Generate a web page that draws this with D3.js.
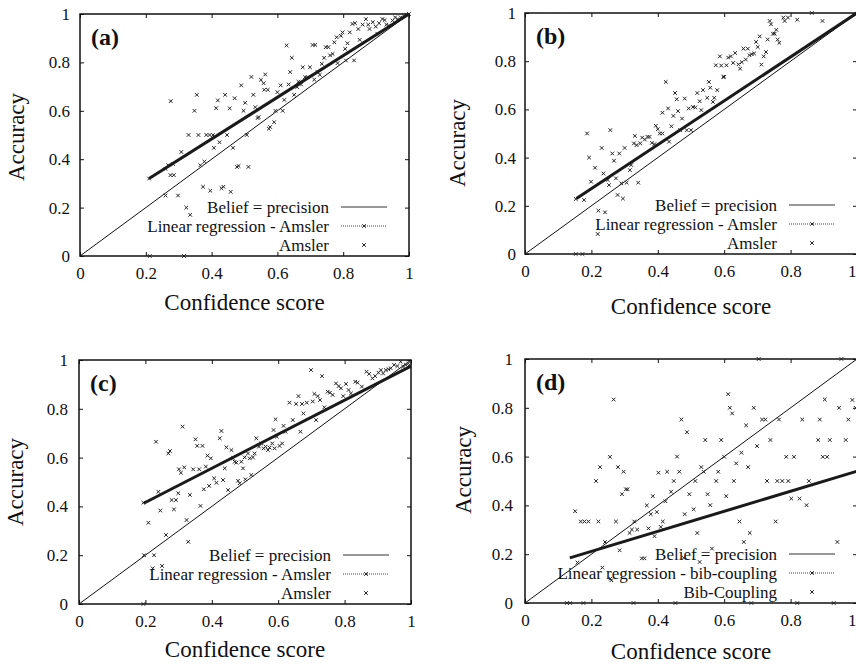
<!DOCTYPE html>
<html lang="en">
<head>
<meta charset="UTF-8">
<title>Confidence score vs accuracy</title>
<script src="https://cdn.jsdelivr.net/npm/d3@7"></script>
<style>
  body { margin: 0; background: #fff; }
  svg text { font-family: 'Liberation Serif', 'Times New Roman', serif; fill: #111; }
</style>
</head>
<body>
<script>
// tick values shared by every panel
const tickValues = [0, 0.2, 0.4, 0.6, 0.8, 1]
const panelNames = ['(a)', '(b)', '(c)', '(d)']
const legendAmsler = ['Belief = precision', 'Linear regression - Amsler', 'Amsler']
const legendBib = ['Belief = precision', 'Linear regression - bib-coupling', 'Bib-Coupling']

// regression end points [x, y]
const regA = [[0.21, 0.32], [1, 1]]
const regB = [[0.155, 0.23], [1, 1]]
const regC = [[0.195, 0.413], [1, 0.975]]
const regD = [[0.135, 0.185], [1, 0.54]]

// scatter points [confidence, accuracy]
const ptsA = [
  [0.212, 0], [0.316, 0], [0.21, 0.32], [0.26, 0.25], [0.26, 0.36], [0.268, 0.375], [0.275, 0.334], [0.285, 0.334],
  [0.283, 0.38], [0.276, 0.64], [0.298, 0.25], [0.308, 0.43], [0.323, 0.2], [0.335, 0.17], [0.33, 0.5],
  [0.348, 0.6], [0.355, 0.666], [0.36, 0.5], [0.366, 0.375], [0.374, 0.286], [0.378, 0.39], [0.384, 0.5],
  [0.394, 0.5], [0.396, 0.27], [0.404, 0.5], [0.407, 0.447], [0.414, 0.611], [0.419, 0.643], [0.424, 0.47],
  [0.43, 0.28], [0.436, 0.286], [0.441, 0.666], [0.447, 0.5], [0.455, 0.61], [0.458, 0.265], [0.465, 0.447],
  [0.47, 0.652], [0.477, 0.368], [0.482, 0.372], [0.49, 0.705], [0.497, 0.6], [0.502, 0.633], [0.507, 0.5],
  [0.512, 0.368], [0.521, 0.74], [0.527, 0.666], [0.533, 0.615], [0.54, 0.57], [0.543, 0.574], [0.55, 0.728],
  [0.558, 0.714], [0.563, 0.75], [0.56, 0.687], [0.571, 0.687], [0.574, 0.526], [0.578, 0.533], [0.59, 0.553],
  [0.594, 0.6], [0.6, 0.677], [0.61, 0.705], [0.616, 0.6], [0.621, 0.645], [0.628, 0.87], [0.634, 0.709],
  [0.639, 0.76], [0.644, 0.819], [0.651, 0.666], [0.66, 0.698], [0.664, 0.72], [0.672, 0.709], [0.677, 0.78],
  [0.684, 0.739], [0.692, 0.739], [0.699, 0.78], [0.707, 0.872], [0.715, 0.872], [0.712, 0.729], [0.722, 0.76],
  [0.729, 0.749], [0.735, 0.794], [0.742, 0.819], [0.747, 0.863], [0.755, 0.863], [0.76, 0.829], [0.768, 0.835],
  [0.773, 0.883], [0.78, 0.904], [0.783, 0.797], [0.793, 0.91], [0.798, 0.924], [0.806, 0.856], [0.813, 0.879],
  [0.808, 0.808], [0.82, 0.924], [0.828, 0.959], [0.836, 0.962], [0.833, 0.808], [0.846, 0.938], [0.85, 0.893],
  [0.859, 0.956], [0.869, 0.979], [0.876, 0.956], [0.88, 0.938], [0.89, 0.966], [0.899, 0.948], [0.904, 0.918],
  [0.909, 0.962], [0.919, 0.979], [0.926, 0.975], [0.931, 0.956], [0.939, 0.952], [0.95, 0.973], [0.958, 0.986],
  [0.965, 0.979], [0.975, 0.986], [0.985, 0.993], [0.995, 0.997], [1, 1]
]

const ptsB = [
  [0.153, 0], [0.173, 0], [0.153, 0.228], [0.178, 0.224], [0.187, 0.5], [0.193, 0.4], [0.199, 0.3], [0.211, 0.358],
  [0.219, 0.083], [0.221, 0.18], [0.231, 0.44], [0.236, 0.334], [0.241, 0.173], [0.249, 0.307], [0.253, 0.286],
  [0.257, 0.514], [0.263, 0.417], [0.268, 0.387], [0.274, 0.314], [0.279, 0.245], [0.284, 0.417], [0.29, 0.293],
  [0.295, 0.23], [0.3, 0.44], [0.306, 0.296], [0.316, 0.348], [0.32, 0.369], [0.328, 0.459], [0.331, 0.49],
  [0.336, 0.452], [0.341, 0.296], [0.347, 0.459], [0.353, 0.483], [0.361, 0.475], [0.369, 0.486], [0.375, 0.486],
  [0.382, 0.461], [0.39, 0.456], [0.394, 0.532], [0.4, 0.518], [0.406, 0.5], [0.414, 0.5], [0.414, 0.586],
  [0.424, 0.714], [0.431, 0.604], [0.434, 0.466], [0.441, 0.53], [0.447, 0.573], [0.452, 0.668], [0.457, 0.642],
  [0.461, 0.593], [0.467, 0.514], [0.473, 0.562], [0.481, 0.645], [0.487, 0.514], [0.493, 0.604], [0.5, 0.514],
  [0.506, 0.61], [0.513, 0.608], [0.519, 0.668], [0.526, 0.634], [0.531, 0.597], [0.536, 0.68], [0.549, 0.648],
  [0.554, 0.714], [0.558, 0.69], [0.566, 0.631], [0.57, 0.648], [0.579, 0.68], [0.575, 0.783], [0.587, 0.82],
  [0.591, 0.782], [0.597, 0.735], [0.6, 0.735], [0.607, 0.783], [0.612, 0.815], [0.62, 0.82], [0.627, 0.793],
  [0.633, 0.834], [0.643, 0.787], [0.648, 0.769], [0.653, 0.796], [0.658, 0.852], [0.665, 0.807], [0.671, 0.852],
  [0.676, 0.825], [0.683, 0.829], [0.69, 0.832], [0.696, 0.88], [0.701, 0.859], [0.707, 0.903], [0.712, 0.786],
  [0.719, 0.82], [0.726, 0.838], [0.731, 0.89], [0.737, 0.967], [0.741, 0.953], [0.747, 0.914], [0.752, 0.914],
  [0.757, 0.93], [0.761, 0.89], [0.766, 0.876], [0.778, 0.981], [0.782, 0.967], [0.792, 0.981], [0.82, 0.972],
  [0.864, 1], [0.896, 0.967]
]

const ptsC = [
  [0.194, 0], [0.196, 0.2], [0.194, 0.415], [0.209, 0.333], [0.226, 0.2], [0.232, 0.665], [0.222, 0.146],
  [0.25, 0.156], [0.239, 0.46], [0.245, 0.383], [0.262, 0.283], [0.269, 0.617], [0.274, 0.627], [0.279, 0.426],
  [0.286, 0.388], [0.292, 0.426], [0.299, 0.454], [0.301, 0.552], [0.307, 0.538], [0.312, 0.727], [0.317, 0.56],
  [0.324, 0.344], [0.329, 0.255], [0.334, 0.447], [0.344, 0.552], [0.351, 0.675], [0.356, 0.648], [0.362, 0.552],
  [0.366, 0.402], [0.372, 0.648], [0.376, 0.47], [0.382, 0.563], [0.387, 0.608], [0.392, 0.484], [0.397, 0.597],
  [0.407, 0.515], [0.414, 0.497], [0.424, 0.679], [0.429, 0.709], [0.434, 0.508], [0.439, 0.556], [0.444, 0.642],
  [0.449, 0.467], [0.459, 0.631], [0.464, 0.597], [0.469, 0.583], [0.474, 0.579], [0.479, 0.505], [0.484, 0.495],
  [0.489, 0.583], [0.494, 0.556], [0.499, 0.601], [0.501, 0.511], [0.509, 0.617], [0.514, 0.597], [0.519, 0.529],
  [0.524, 0.601], [0.529, 0.617], [0.534, 0.679], [0.542, 0.645], [0.549, 0.658], [0.556, 0.638], [0.562, 0.645],
  [0.569, 0.631], [0.574, 0.641], [0.582, 0.658], [0.589, 0.638], [0.586, 0.713], [0.592, 0.757], [0.596, 0.686],
  [0.604, 0.648], [0.612, 0.658], [0.616, 0.73], [0.622, 0.706], [0.634, 0.825], [0.644, 0.754], [0.654, 0.82],
  [0.661, 0.852], [0.667, 0.706], [0.672, 0.82], [0.676, 0.781], [0.686, 0.825], [0.699, 0.959], [0.704, 0.83],
  [0.709, 0.861], [0.714, 0.754], [0.719, 0.852], [0.726, 0.836], [0.732, 0.934], [0.739, 0.806], [0.749, 0.87],
  [0.756, 0.866], [0.764, 0.857], [0.774, 0.904], [0.782, 0.893], [0.789, 0.884], [0.796, 0.852], [0.804, 0.902],
  [0.812, 0.877], [0.819, 0.863], [0.832, 0.911], [0.839, 0.907], [0.852, 0.891], [0.866, 0.952], [0.874, 0.943],
  [0.884, 0.925], [0.892, 0.934], [0.902, 0.948], [0.909, 0.959], [0.916, 0.945], [0.924, 0.959], [0.932, 0.962],
  [0.939, 0.966], [0.949, 0.98], [0.959, 0.975], [0.969, 0.993], [0.976, 0.973], [0.984, 0.98], [0.992, 0.986],
  [0.996, 0.973]
]

const ptsD = [
  [0.126, 0], [0.136, 0], [0.176, 0], [0.327, 0], [0.453, 0], [0.682, 0], [0.82, 0], [0.93, 0],
  [0.704, 1], [0.953, 1], [0.151, 0.376], [0.158, 0.166], [0.168, 0.334], [0.179, 0.334], [0.191, 0.334],
  [0.214, 0.5], [0.221, 0.334], [0.226, 0.557], [0.233, 0.145], [0.241, 0.25], [0.257, 0.1], [0.26, 0.093],
  [0.256, 0.599], [0.267, 0.834], [0.274, 0.334], [0.28, 0.557], [0.285, 0.216], [0.292, 0.446], [0.297, 0.538],
  [0.304, 0.466], [0.309, 0.466], [0.315, 0.287], [0.322, 0.301], [0.329, 0.334], [0.338, 0.301], [0.352, 0.183],
  [0.36, 0.183], [0.367, 0.4], [0.372, 0.306], [0.379, 0.364], [0.385, 0.438], [0.39, 0.274], [0.397, 0.373],
  [0.402, 0.534], [0.409, 0.312], [0.415, 0.334], [0.423, 0.417], [0.428, 0.538], [0.44, 0.456], [0.448, 0.5],
  [0.458, 0.6], [0.465, 0.538], [0.471, 0.752], [0.478, 0.185], [0.481, 0.364], [0.488, 0.7], [0.495, 0.446],
  [0.508, 0.384], [0.513, 0.5], [0.519, 0.287], [0.526, 0.168], [0.531, 0.557], [0.538, 0.538], [0.543, 0.668],
  [0.55, 0.446], [0.558, 0.401], [0.563, 0.223], [0.576, 0.5], [0.582, 0.538], [0.591, 0.668], [0.6, 0.599],
  [0.606, 0.438], [0.612, 0.856], [0.617, 0.8], [0.624, 0.777], [0.629, 0.5], [0.636, 0.572], [0.646, 0.334],
  [0.652, 0.616], [0.659, 0.25], [0.666, 0.728], [0.672, 0.557], [0.677, 0.287], [0.689, 0.8], [0.699, 0.643],
  [0.714, 0.752], [0.724, 0.752], [0.729, 0.5], [0.739, 0.668], [0.755, 0.334], [0.76, 0.5], [0.765, 0.752],
  [0.775, 0.5], [0.787, 0.599], [0.793, 0.5], [0.802, 0.428], [0.81, 0.599], [0.827, 0.428], [0.835, 0.752],
  [0.848, 0.401], [0.855, 0.5], [0.883, 0.668], [0.888, 0.752], [0.897, 0.599], [0.903, 0.834], [0.91, 0.599],
  [0.918, 0.668], [0.941, 0.25], [0.946, 0.8], [0.966, 0.668], [0.974, 0.752], [0.986, 0.832], [0.996, 0.8]
]

const width = 856
const height = 664

const svg = d3.select('body').append('svg')
  .attr('width', width)
  .attr('height', height)

const panels = [
  { name: panelNames[0], pts: ptsA, reg: regA, legend: legendAmsler,
    left: 80, right: 409, top: 14, bottom: 256, yPad: 10, yTitleX: 17, yTitleY: 137, xTitleY: 310 },
  { name: panelNames[1], pts: ptsB, reg: regB, legend: legendAmsler,
    left: 525, right: 857, top: 13, bottom: 254, yPad: 9, yTitleX: 458, yTitleY: 143, xTitleY: 314 },
  { name: panelNames[2], pts: ptsC, reg: regC, legend: legendAmsler,
    left: 79, right: 411, top: 360, bottom: 604, yPad: 11, yTitleX: 16, yTitleY: 482, xTitleY: 657 },
  { name: panelNames[3], pts: ptsD, reg: regD, legend: legendBib,
    left: 525, right: 857, top: 359, bottom: 603, yPad: 12, yTitleX: 464, yTitleY: 470, xTitleY: 659 }
]

const cross = 'M-1.8,-1.8L1.8,1.8M-1.8,1.8L1.8,-1.8'

panels.forEach(drawPanel)

function drawPanel(p) {
  const x = d3.scaleLinear().domain([0, 1]).range([p.left, p.right])
  const y = d3.scaleLinear().domain([0, 1]).range([p.bottom, p.top])
  const g = svg.append('g')
  const fmt = d3.format('~g')

  // axes, gnuplot style ticks pointing inward on all four sides
  const xb = g.append('g')
    .attr('transform', `translate(0,${p.bottom})`)
    .call(d3.axisBottom(x).tickValues(tickValues).tickFormat(fmt).tickSizeInner(-4).tickSizeOuter(0).tickPadding(11))
  g.append('g')
    .attr('transform', `translate(${p.left},0)`)
    .call(d3.axisLeft(y).tickValues(tickValues).tickFormat(fmt).tickSizeInner(-4).tickSizeOuter(0).tickPadding(p.yPad))
  g.append('g')
    .attr('transform', `translate(0,${p.top})`)
    .call(d3.axisTop(x).tickValues(tickValues).tickFormat('').tickSizeInner(-4).tickSizeOuter(0))
  g.append('g')
    .attr('transform', `translate(${p.right},0)`)
    .call(d3.axisRight(y).tickValues(tickValues).tickFormat('').tickSizeInner(-4).tickSizeOuter(0))

  g.selectAll('.domain').remove()
  g.selectAll('.tick line').attr('stroke', '#111')
  g.selectAll('.tick text')
    .attr('font-family', "'Liberation Serif', serif")
    .attr('font-size', 17)
    .attr('fill', '#111')

  // the right-hand panels run to the page edge; keep the last label inside
  if (p.right > width) {
    xb.selectAll('.tick text').filter(d => d === 1).attr('text-anchor', 'end').attr('x', width - p.right)
  }

  g.append('rect')
    .attr('x', p.left)
    .attr('y', p.top)
    .attr('width', p.right - p.left)
    .attr('height', p.bottom - p.top)
    .attr('fill', 'none')
    .attr('stroke', '#111')
    .attr('stroke-width', 1.5)

  // belief = precision diagonal
  g.append('line')
    .attr('x1', x(0)).attr('y1', y(0))
    .attr('x2', x(1)).attr('y2', y(1))
    .attr('stroke', '#111')
    .attr('stroke-width', 1)

  // scatter
  g.selectAll('path.pt')
    .data(p.pts)
    .enter()
    .append('path')
    .attr('class', 'pt')
    .attr('d', cross)
    .attr('transform', d => `translate(${x(d[0])},${y(d[1])})`)
    .attr('stroke', '#222')
    .attr('stroke-width', 1)
    .attr('fill', 'none')

  // regression line (drawn as a dense band of markers in the original)
  g.append('path')
    .datum(p.reg)
    .attr('d', d3.line().x(d => x(d[0])).y(d => y(d[1])))
    .attr('stroke', '#1a1a1a')
    .attr('stroke-width', 3)
    .attr('fill', 'none')

  // panel label
  g.append('text')
    .attr('x', p.left + 11)
    .attr('y', p.top + 31)
    .attr('font-size', 24)
    .attr('font-weight', 'bold')
    .text(p.name)

  // legend
  const lx = p.right - 80
  p.legend.forEach((label, i) => {
    const by = p.bottom - 43 + i * 19
    g.append('text')
      .attr('x', lx)
      .attr('y', by)
      .attr('text-anchor', 'end')
      .attr('font-size', 17)
      .text(label)
    const my = by - 6
    if (i === 0) {
      g.append('line')
        .attr('x1', p.right - 68).attr('x2', p.right - 22)
        .attr('y1', my).attr('y2', my)
        .attr('stroke', '#333').attr('stroke-width', 1)
    }
    if (i === 1) {
      g.append('line')
        .attr('x1', p.right - 68).attr('x2', p.right - 22)
        .attr('y1', my).attr('y2', my)
        .attr('stroke', '#444').attr('stroke-width', 1)
        .attr('stroke-dasharray', '1,1')
    }
    if (i >= 1) {
      g.append('path')
        .attr('d', cross)
        .attr('transform', `translate(${p.right - 45},${my})`)
        .attr('stroke', '#222').attr('fill', 'none')
    }
  })

  // axis titles
  g.append('text')
    .attr('x', (p.left + p.right) / 2)
    .attr('y', p.xTitleY)
    .attr('text-anchor', 'middle')
    .attr('font-size', 23)
    .text('Confidence score')

  g.append('text')
    .attr('transform', `translate(${p.yTitleX + 7},${p.yTitleY}) rotate(-90)`)
    .attr('text-anchor', 'middle')
    .attr('font-size', 23)
    .text('Accuracy')
}
</script>
</body>
</html>
